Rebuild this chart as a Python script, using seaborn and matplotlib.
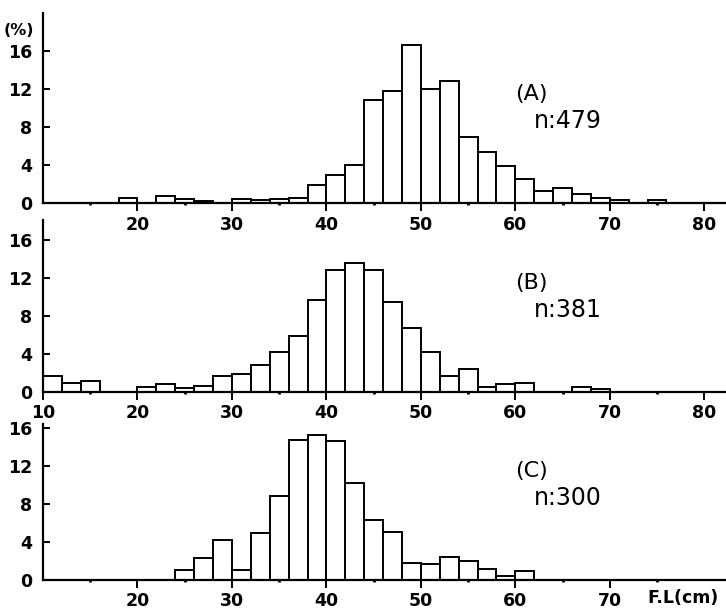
import matplotlib.pyplot as plt
import numpy as np
import pandas as pd
import seaborn as sns

# fork length classes (lower edge of 2 cm bins) and percentage per class
binA = [18, 20, 22, 24, 26, 28, 30, 32, 34, 36, 38, 40, 42, 44, 46, 48, 50,
        52, 54, 56, 58, 60, 62, 64, 66, 68, 70, 72, 74]
pctA = [0.5, 0, 0.7, 0.4, 0.2, 0, 0.4, 0.3, 0.4, 0.5, 1.9, 3.0, 4.0, 10.8, 11.8, 16.6, 12.0,
        12.8, 6.9, 5.4, 3.9, 2.5, 1.3, 1.6, 1.0, 0.5, 0.35, 0, 0.3]

binB = [10, 12, 14, 16, 18, 20, 22, 24, 26, 28, 30, 32, 34, 36, 38, 40, 42,
        44, 46, 48, 50, 52, 54, 56, 58, 60, 62, 64, 66, 68]
pctB = [1.7, 0.9, 1.2, 0, 0, 0.5, 0.85, 0.4, 0.6, 1.7, 1.9, 2.9, 4.2, 5.9, 9.7, 12.9, 13.6,
        12.85, 9.5, 6.8, 4.2, 1.65, 2.4, 0.5, 0.85, 1.0, 0, 0, 0.5, 0.35]

binC = [24, 26, 28, 30, 32, 34, 36, 38, 40, 42, 44, 46, 48, 50, 52, 54, 56, 58, 60]
pctC = [1.0, 2.3, 4.2, 1.1, 4.9, 8.8, 14.7, 15.2, 14.6, 10.2, 6.35, 5.0, 1.8, 1.65,
        2.4, 2.05, 1.2, 0.4, 0.9]

panels = ['(A)', '(B)', '(C)']
nSamples = ['n:479', 'n:381', 'n:300']

sns.set_style('ticks')
plt.rcParams['font.family'] = ['DejaVu Sans']
plt.rcParams['text.color'] = 'black'
plt.rcParams['xtick.color'] = 'black'
plt.rcParams['ytick.color'] = 'black'

fig = plt.figure(figsize=(7.26, 6.10), dpi=100)
W, H = 726.0, 610.0
left = 43/W
# (bottom px, top px, ymax)
boxes = [(203, 13, 20.0), (392, 220, 18.14), (580, 424, 16.4)]
axs = []
for (bpx, tpx, ymax) in boxes:
    ax = fig.add_axes([left, 1-bpx/H, 1-left, (bpx-tpx)/H])
    ax.set_facecolor('none')
    ax.set_ylim(0, ymax)
    axs.append(ax)

dataSets = [(binA, pctA), (binB, pctB), (binC, pctC)]
for i, (ax, (bins, pct)) in enumerate(zip(axs, dataSets)):
    df = pd.DataFrame({'fl': np.array(bins) + 1.0, 'pct': pct})
    sns.histplot(data=df, x='fl', weights='pct', binwidth=2,
                 binrange=(bins[0], bins[-1] + 2), ax=ax,
                 color='white', edgecolor='black', linewidth=1.4, alpha=1)
    ax.set_xlim(10, 82.3)
    ax.set_xlabel('')
    ax.set_ylabel('')
    sns.despine(ax=ax)
    for s in ['left', 'bottom']:
        ax.spines[s].set_linewidth(1.6)
        ax.spines[s].set_color('black')
    ax.set_yticks([0, 4, 8, 12, 16])
    ax.set_yticklabels(['0', '4', '8', '12', '16'])
    ax.tick_params(axis='y', direction='in', length=5, width=1.4, pad=8,
                   labelsize=12.5)
    if i == 1:
        xt = [10, 20, 30, 40, 50, 60, 70, 80]
    elif i == 0:
        xt = [20, 30, 40, 50, 60, 70, 80]
    else:
        xt = [20, 30, 40, 50, 60, 70]
    ax.set_xticks(xt)
    ax.set_xticklabels([str(v) for v in xt])
    ax.set_xticks([15, 25, 35, 45, 55, 65, 75], minor=True)
    ax.tick_params(axis='x', which='major', direction='out', length=6, width=1.4,
                   pad=3, labelsize=12.5)
    ax.tick_params(axis='x', which='minor', direction='out', length=1.5, width=2)
    for lab in ax.get_xticklabels() + ax.get_yticklabels():
        lab.set_fontweight('bold')
    ax.text(60.0, 11.5, panels[i], fontsize=16, ha='left', va='center')
    ax.text(62.0, 8.6, nSamples[i], fontsize=17, ha='left', va='center')

axs[0].text(-0.058, 0.91, '(%)', transform=axs[0].transAxes, fontsize=11.5,
            fontweight='bold', ha='left', va='center')
axs[2].annotate('F.L(cm)', xy=(77.8, 0), xycoords=('data', 'axes fraction'),
                xytext=(0, -13), textcoords='offset points',
                fontsize=12.5, fontweight='bold', ha='center', va='center')

fig.savefig('out.png', dpi=100)
